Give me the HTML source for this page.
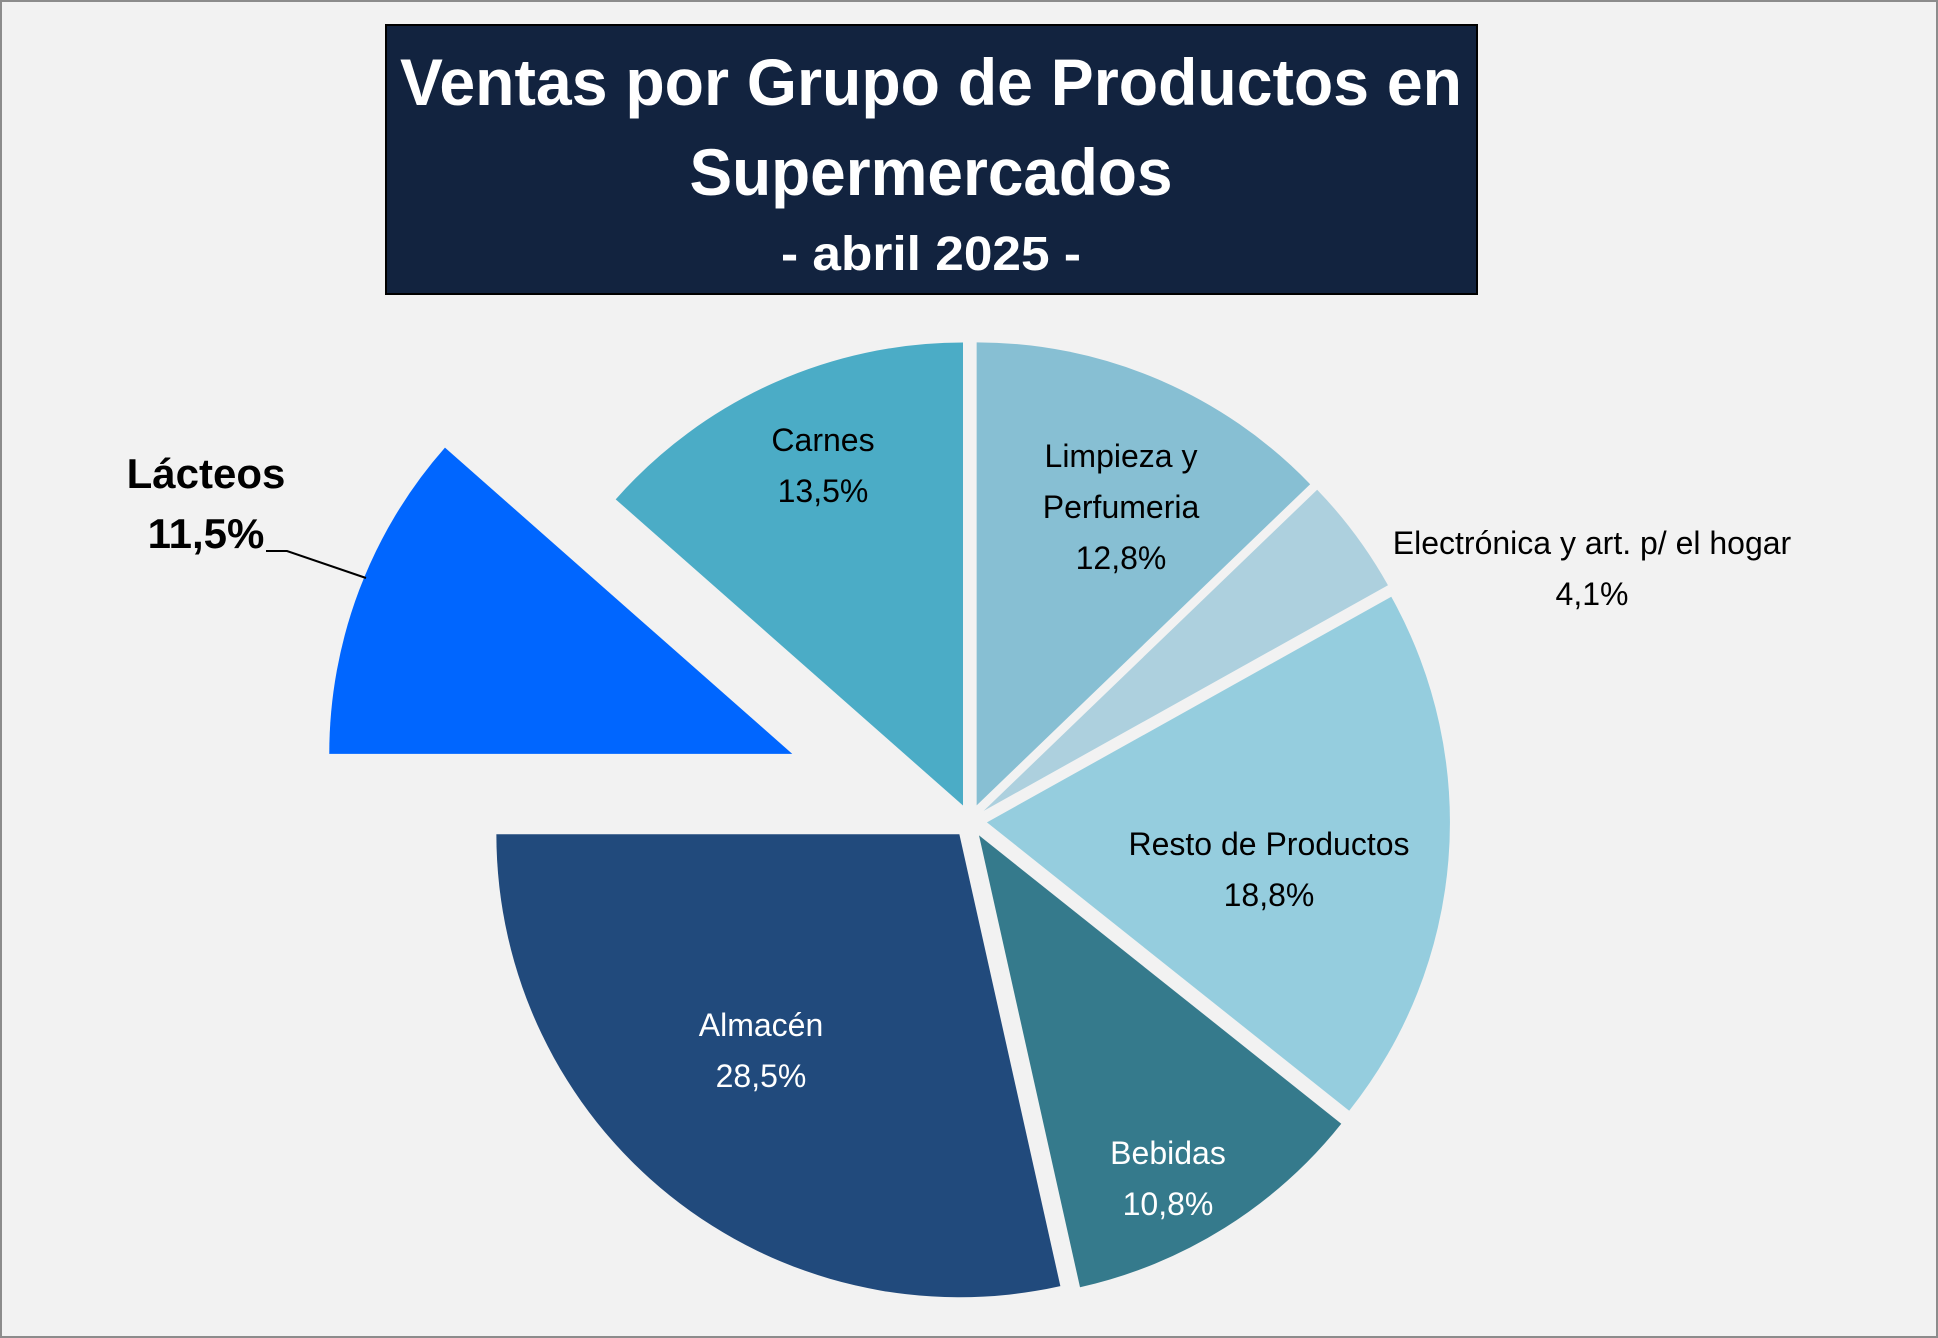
<!DOCTYPE html>
<html><head><meta charset="utf-8"><style>
html,body{margin:0;padding:0;background:#F2F2F2;}
svg{display:block;}
text{font-family:"Liberation Sans Narrow","Liberation Sans",sans-serif;}
</style></head><body>
<svg id="chart" width="1938" height="1338" viewBox="0 0 1938 1338" xmlns="http://www.w3.org/2000/svg">
<rect x="1" y="1" width="1936" height="1336" fill="#F2F2F2" stroke="#8C8C8C" stroke-width="2"/>
<g>
<rect x="386" y="25" width="1091" height="269" fill="#12233F" stroke="#000" stroke-width="2"/>
<text x="931" y="105" text-anchor="middle" font-size="66" font-weight="bold" fill="#fff" textLength="1062" lengthAdjust="spacingAndGlyphs">Ventas por Grupo de Productos en</text>
<text x="931" y="195" text-anchor="middle" font-size="66" font-weight="bold" fill="#fff" textLength="483" lengthAdjust="spacingAndGlyphs">Supermercados</text>
<text x="931" y="270" text-anchor="middle" font-size="48" font-weight="bold" fill="#fff" textLength="300" lengthAdjust="spacingAndGlyphs">- abril 2025 -</text>
</g>
<g id="slices"></g>
<g id="labels"></g>
<polyline points="266,551 287,551 366,578" fill="none" stroke="#000" stroke-width="2"/>
</svg>
<script>
const categories = ["Limpieza y Perfumeria","Electrónica y art. p/ el hogar","Resto de Productos","Bebidas","Almacén","Lácteos","Carnes"];
const values = [12.8, 4.1, 18.8, 10.8, 28.5, 11.5, 13.5];
const valueLabels = ["12,8%","4,1%","18,8%","10,8%","28,5%","11,5%","13,5%"];
const colors = ["#87BFD3","#ADD0DE","#95CDDE","#357A8C","#214A7C","#0066FF","#4BACC6"];
const explode = [17,17,17,17,17,190,17];
const labelLines = [["Limpieza y","Perfumeria"],["Electrónica y art. p/ el hogar"],["Resto de Productos"],["Bebidas"],["Almacén"],["Lácteos"],["Carnes"]];
const labelPos = [[1121,467],[1592,554],[1269,855],[1168,1164],[761,1036],[206,488],[823,451]];
const labelColor = ["#000","#000","#000","#fff","#fff","#000","#000"];
const labelBold = [false,false,false,false,false,true,false];

const NS = "http://www.w3.org/2000/svg";
const cx = 970, cy = 821, R = 463;
const total = values.reduce((a,b)=>a+b,0);
function angleOf(v){ return v/total*2*Math.PI; }
function pt(a,r,ox,oy){ return [ox + r*Math.sin(a), oy - r*Math.cos(a)]; }
const sg = document.getElementById('slices');
const lg = document.getElementById('labels');
let acc = 0;
values.forEach((v,i)=>{
  const a0 = angleOf(acc), a1 = angleOf(acc+v); acc += v;
  const mid = (a0+a1)/2;
  const ox = cx + explode[i]*Math.sin(mid), oy = cy - explode[i]*Math.cos(mid);
  const p0 = pt(a0,R,ox,oy), p1 = pt(a1,R,ox,oy);
  const large = (a1-a0) > Math.PI ? 1 : 0;
  const path = document.createElementNS(NS,'path');
  path.setAttribute('d',`M${ox},${oy} L${p0[0]},${p0[1]} A${R},${R} 0 ${large} 1 ${p1[0]},${p1[1]} Z`);
  path.setAttribute('fill',colors[i]);
  
  
  sg.appendChild(path);
  const lines = labelLines[i].concat([valueLabels[i]]);
  const fs = labelBold[i] ? 42 : 32;
  const lh = labelBold[i] ? 60 : 51;
  lines.forEach((t,j)=>{
    const tx = document.createElementNS(NS,'text');
    tx.setAttribute('x', labelPos[i][0]);
    tx.setAttribute('y', labelPos[i][1] + j*lh);
    tx.setAttribute('text-anchor','middle');
    tx.setAttribute('font-size', fs);
    if (labelBold[i]) tx.setAttribute('font-weight','bold');
    tx.setAttribute('fill', labelColor[i]);
    
    
    tx.textContent = t;
    lg.appendChild(tx);
  });
});
</script>
</body></html>
